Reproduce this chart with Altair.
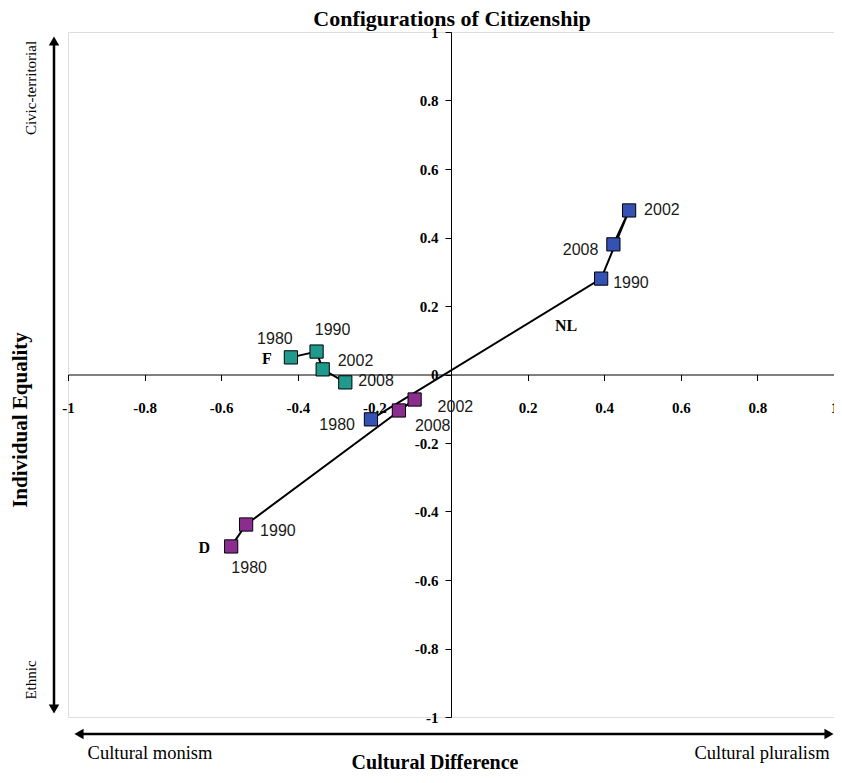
import altair as alt
import pandas as pd

# ---- data ----
series = ["F", "F", "F", "F", "D", "D", "D", "D", "NL", "NL", "NL", "NL"]
years = [1980, 1990, 2002, 2008, 1980, 1990, 2002, 2008, 1980, 1990, 2002, 2008]
cultural_difference = [-0.418, -0.351, -0.335, -0.276,
                       -0.574, -0.535, -0.095, -0.136,
                       -0.209, 0.392, 0.465, 0.424]
individual_equality = [0.050, 0.067, 0.015, -0.023,
                       -0.502, -0.438, -0.073, -0.105,
                       -0.131, 0.280, 0.479, 0.380]
tick_values = [-1, -0.8, -0.6, -0.4, -0.2, 0, 0.2, 0.4, 0.6, 0.8, 1]
series_names = ["F", "D", "NL"]
series_colors = ["#1F9A8C", "#8A2D8E", "#3452B4"]

df = pd.DataFrame({
    "series": series,
    "year": years,
    "x": cultural_difference,
    "y": individual_equality,
})
df["idx"] = range(len(df))

# ---- layout / style ----
W, H = 766, 685
SERIF = "Liberation Serif"
SANS = "Liberation Sans"

# label offsets for each point (dx, dy, align), in point order
label_offsets = [
    (-16, -18, "center"), (16, -22, "center"), (15, -8, "left"), (13, -1, "left"),
    (18, 22, "center"), (14, 6, "left"), (23, 7, "left"), (16, 16, "left"),
    (-16, 6, "right"), (12, 4, "left"), (15, 0, "left"), (-15, 6, "right"),
]
# series name labels: attached to a point index with offsets
name_labels = [("F", 0, -24, 2), ("D", 4, -27, 2), ("NL", 9, -35, 47)]

xscale = alt.Scale(domain=[-1, 1], nice=False, zero=False)
yscale = alt.Scale(domain=[-1, 1], nice=False, zero=False)

x_axis = alt.Axis(values=tick_values, offset=-H / 2, domainColor="black", domainWidth=1,
                  tickColor="black", tickSize=6, tickWidth=1, labelFont=SERIF,
                  labelFontWeight="bold", labelFontSize=15, labelColor="black",
                  labelPadding=20, grid=False, title=None, labelFlush=False,
                  labelOverlap=False,
                  labelExpr="datum.value == 0 ? '' : '' + datum.value")
y_axis = alt.Axis(values=tick_values, offset=-W / 2, domainColor="black", domainWidth=1,
                  tickColor="black", tickSize=6, tickWidth=1, labelFont=SERIF,
                  labelFontWeight="bold", labelFontSize=15, labelColor="black",
                  labelPadding=7, grid=False, title=None, labelFlush=False,
                  labelOverlap=False, labelExpr="'' + datum.value")

base = alt.Chart(df)

lines = base.mark_line(color="black", strokeWidth=2).encode(
    x=alt.X("x:Q", scale=xscale, axis=x_axis),
    y=alt.Y("y:Q", scale=yscale, axis=y_axis),
    detail="series:N",
    order="year:O",
)

points = base.mark_point(shape="square", filled=True, size=175, stroke="black",
                         strokeWidth=1, opacity=1).encode(
    x=alt.X("x:Q", scale=xscale),
    y=alt.Y("y:Q", scale=yscale),
    fill=alt.Fill("series:N", scale=alt.Scale(domain=series_names, range=series_colors),
                  legend=None),
)

layers = [lines, points]

for i, (dx, dy, align) in enumerate(label_offsets):
    layers.append(
        base.transform_filter(alt.datum.idx == i).mark_text(
            dx=dx, dy=dy, align=align, baseline="middle", font=SANS, fontSize=16,
            color="#1a1a1a").encode(
            x=alt.X("x:Q", scale=xscale),
            y=alt.Y("y:Q", scale=yscale),
            text="year:N",
        )
    )

for name, i, dx, dy in name_labels:
    layers.append(
        base.transform_filter(alt.datum.idx == i).mark_text(
            dx=dx, dy=dy, align="center", baseline="middle", font=SERIF, fontSize=16,
            fontWeight="bold", color="black", text=name).encode(
            x=alt.X("x:Q", scale=xscale),
            y=alt.Y("y:Q", scale=yscale),
        )
    )

one = pd.DataFrame({"k": [0]})


def txt(text, x, y, size, bold=False, angle=0, baseline="middle"):
    return alt.Chart(one).mark_text(text=text, font=SERIF, fontSize=size,
                                    fontWeight="bold" if bold else "normal",
                                    angle=angle, align="center", baseline=baseline,
                                    color="black").encode(x=alt.value(x), y=alt.value(y))


layers += [
    txt("Configurations of Citizenship", 384, -23, 22, bold=True, baseline="top"),
    txt("Individual Equality", -47, 388, 21, bold=True, angle=270),
    txt("Civic-territorial", -37, 56, 15, angle=270),
    txt("Ethnic", -37, 648, 15, angle=270),
    txt("Cultural monism", 82, 721, 18.5),
    txt("Cultural pluralism", 694, 721, 18.5),
    txt("Cultural Difference", 367, 731, 20, bold=True),
]

# arrows
layers += [
    alt.Chart(one).mark_rule(color="black", strokeWidth=2.5).encode(
        x=alt.value(-14), y=alt.value(10), y2=alt.value(676)),
    alt.Chart(one).mark_rule(color="black", strokeWidth=2.5).encode(
        x=alt.value(12), x2=alt.value(760), y=alt.value(702)),
    alt.Chart(one).mark_point(shape="triangle-up", filled=True, color="black", size=110,
                              opacity=1).encode(x=alt.value(-14), y=alt.value(9)),
    alt.Chart(one).mark_point(shape="triangle-down", filled=True, color="black", size=110,
                              opacity=1).encode(x=alt.value(-14), y=alt.value(677)),
    alt.Chart(one).mark_point(shape="triangle-left", filled=True, color="black", size=110,
                              opacity=1).encode(x=alt.value(11), y=alt.value(702)),
    alt.Chart(one).mark_point(shape="triangle-right", filled=True, color="black", size=110,
                              opacity=1).encode(x=alt.value(761), y=alt.value(702)),
]

chart = alt.layer(*layers).properties(
    width=W, height=H,
    autosize=alt.AutoSizeParams(type="none"),
    padding={"left": 60, "top": 24, "right": 0, "bottom": 58},
).configure_view(stroke="#9A9A9A", strokeWidth=1.5).configure(background="white")

chart.save("out.html", embed_options={"renderer": "svg", "actions": False})
